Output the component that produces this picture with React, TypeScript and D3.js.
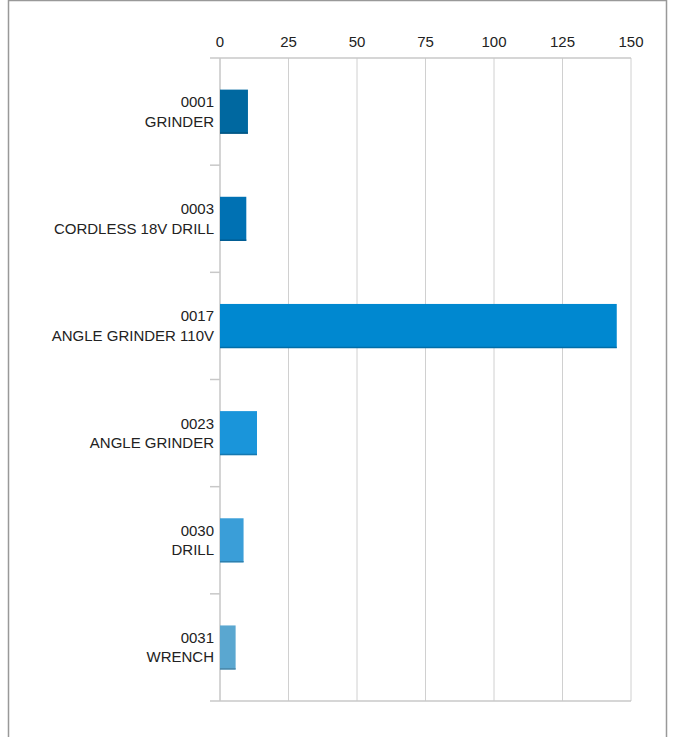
import * as d3 from "d3";
import { useRef, useEffect } from "react";

// chart data
const codes = ["0001", "0003", "0017", "0023", "0030", "0031"];
const names = ["GRINDER", "CORDLESS 18V DRILL", "ANGLE GRINDER 110V", "ANGLE GRINDER", "DRILL", "WRENCH"];
const values = [10.2, 9.6, 144.8, 13.5, 8.6, 5.7];
const barColors = ["#0068a0", "#0071b3", "#0088d0", "#1a95da", "#3a9ed8", "#5aa7d0"];
const tickValues = [0, 25, 50, 75, 100, 125, 150];

const width = 674;
const height = 737;

export default function App() {
  const svgRef = useRef<SVGSVGElement | null>(null);

  useEffect(() => {
    if (!svgRef.current) return;
    const svg = d3.select(svgRef.current);
    svg.selectAll("*").remove();

    const marginLeft = 220;
    const marginRight = 43;
    const marginTop = 58;
    const plotBottom = 701;
    const font = "'Liberation Sans', Arial, sans-serif";

    // frame
    svg
      .append("path")
      .attr("d", `M8.5,${height + 2} V0.5 H666.5 V${height + 2}`)
      .attr("fill", "none")
      .attr("stroke", "#999")
      .attr("stroke-width", 1.5);

    const x = d3.scaleLinear().domain([0, 150]).range([marginLeft, width - marginRight]);
    const y = d3
      .scaleBand<number>()
      .domain(d3.range(codes.length))
      .range([marginTop, plotBottom])
      .paddingInner(0.59)
      .paddingOuter(0.295);

    // vertical grid lines
    svg
      .append("g")
      .selectAll("line")
      .data(tickValues)
      .join("line")
      .attr("x1", (d) => x(d))
      .attr("x2", (d) => x(d))
      .attr("y1", marginTop)
      .attr("y2", plotBottom)
      .attr("stroke", (d) => (d === 0 ? "#aaa" : "#d0d0d0"))
      .attr("stroke-width", 1);

    // top and bottom axis lines
    [marginTop, plotBottom].forEach((yy) => {
      svg
        .append("line")
        .attr("x1", marginLeft - 10)
        .attr("x2", x(150))
        .attr("y1", yy)
        .attr("y2", yy)
        .attr("stroke", "#c8c8c8")
        .attr("stroke-width", 1.5);
    });

    // category tick marks between bands
    const step = (plotBottom - marginTop) / codes.length;
    svg
      .append("g")
      .selectAll("line")
      .data(d3.range(1, codes.length))
      .join("line")
      .attr("x1", marginLeft - 10)
      .attr("x2", marginLeft)
      .attr("y1", (i) => marginTop + i * step)
      .attr("y2", (i) => marginTop + i * step)
      .attr("stroke", "#c8c8c8")
      .attr("stroke-width", 1.5);

    // tick labels
    svg
      .append("g")
      .selectAll("text")
      .data(tickValues)
      .join("text")
      .attr("x", (d) => x(d))
      .attr("y", 47)
      .attr("text-anchor", "middle")
      .attr("font-family", font)
      .attr("font-size", 15)
      .attr("fill", "#222")
      .text((d) => d);

    // bars
    const bars = svg.append("g");
    values.forEach((v, i) => {
      const y0 = y(i)!;
      const bh = y.bandwidth();
      bars
        .append("rect")
        .attr("x", x(0))
        .attr("y", y0)
        .attr("width", x(v) - x(0))
        .attr("height", bh)
        .attr("fill", barColors[i]);
      bars
        .append("line")
        .attr("x1", x(0))
        .attr("x2", x(v))
        .attr("y1", y0 + bh - 0.5)
        .attr("y2", y0 + bh - 0.5)
        .attr("stroke", d3.color(barColors[i])!.darker(0.6).toString())
        .attr("stroke-width", 1.5);
    });

    // category labels
    const labels = svg.append("g");
    codes.forEach((c, i) => {
      const cy = y(i)! + y.bandwidth() / 2;
      const t = labels
        .append("text")
        .attr("text-anchor", "end")
        .attr("font-family", font)
        .attr("font-size", 15)
        .attr("fill", "#222");
      t.append("tspan").attr("x", marginLeft - 6).attr("y", cy - 4.5).text(c);
      t.append("tspan").attr("x", marginLeft - 6).attr("y", cy + 15).text(names[i]);
    });
  }, []);

  return (
    <div style={{ position: "absolute", left: 0, top: 0 }}>
      <svg ref={svgRef} width={width} height={height} style={{ display: "block" }}></svg>
    </div>
  );
}
